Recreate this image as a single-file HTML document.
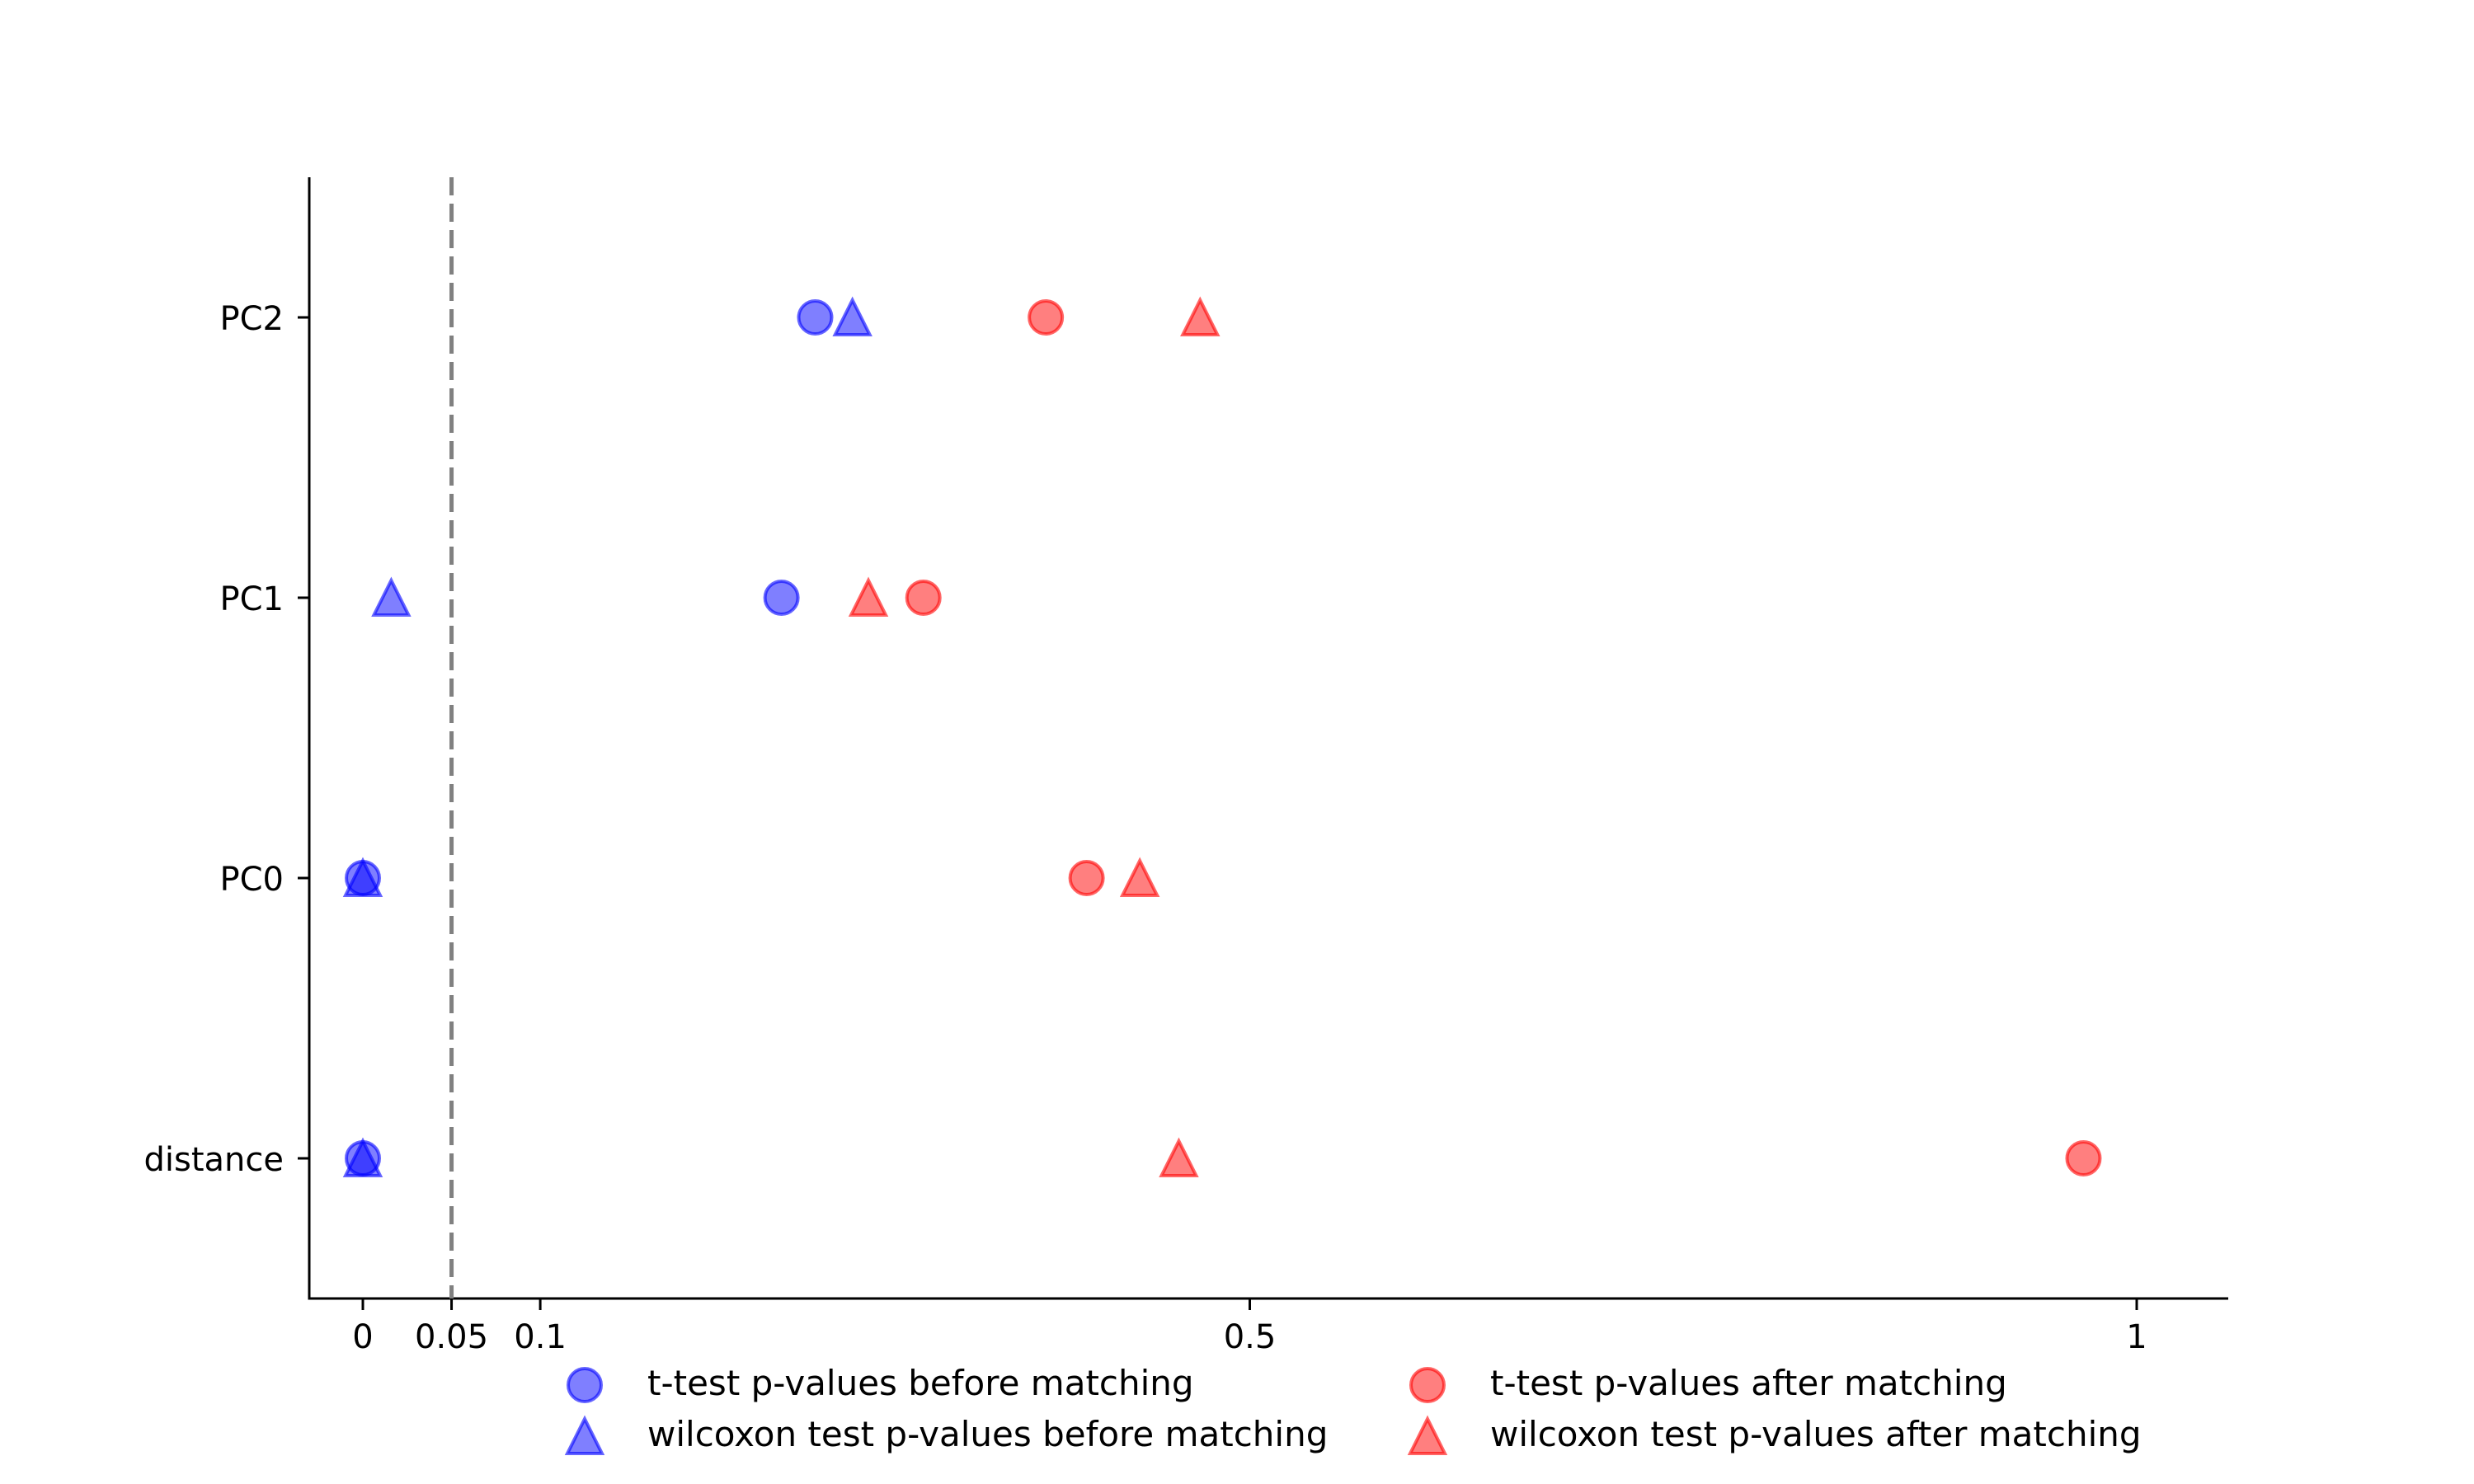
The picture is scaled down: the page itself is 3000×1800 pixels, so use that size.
<!DOCTYPE html>
<html><head><meta charset="utf-8"><style>
html,body{margin:0;padding:0;background:#fff;}
svg{display:block;font-family:"DejaVu Sans","Liberation Sans",sans-serif;}
</style></head><body>
<svg id="chart" width="3000" height="1800" viewBox="0 0 3000 1800">
<g id="plot"></g>
<g id="legend"></g>
</svg>
<script>
const categories = ["distance","PC0","PC1","PC2"];
const ttestBefore = [0.0, 0.0, 0.236, 0.255];
const wilcoxBefore = [0.0, 0.0, 0.016, 0.276];
const ttestAfter = [0.970, 0.408, 0.316, 0.385];
const wilcoxAfter = [0.460, 0.438, 0.285, 0.472];
const xTickValues = [0, 0.05, 0.1, 0.5, 1];
const xTickLabels = ["0","0.05","0.1","0.5","1"];
const threshold = 0.05;

const NS = "http://www.w3.org/2000/svg";
const X0 = 440, XS = 2151;
const xScale = v => X0 + v * XS;
const yScale = i => 1405 - i * 340;
const AX_L = 375, AX_R = 2702, AX_T = 215, AX_B = 1575;
const plot = document.getElementById('plot');
const legend = document.getElementById('legend');
function mk(tag, attrs, parent){
  const e = document.createElementNS(NS, tag);
  for (const k in attrs) e.setAttribute(k, attrs[k]);
  parent.appendChild(e); return e;
}
let ax = mk('line',{x1:AX_L,y1:AX_T,x2:AX_L,y2:AX_B+1.5,stroke:'#000','stroke-width':3},plot);


ax = mk('line',{x1:AX_L-1.5,y1:AX_B,x2:AX_R,y2:AX_B,stroke:'#000','stroke-width':3},plot);


const th = mk('line',{x1:xScale(threshold),y1:AX_T,x2:xScale(threshold),y2:AX_B,stroke:'#808080','stroke-width':5,'stroke-dasharray':'22,10'},plot);


xTickValues.forEach((v,i)=>{
  const x = xScale(v);
  const t = mk('line',{x1:x,y1:AX_B,x2:x,y2:AX_B+14,stroke:'#000','stroke-width':3},plot);
  
  
  const l = mk('text',{x:x,y:1635,'font-size':40,'text-anchor':'middle'},plot);
  l.textContent = xTickLabels[i];
  
  
});
categories.forEach((c,i)=>{
  const y = yScale(i);
  const t = mk('line',{x1:AX_L-14,y1:y,x2:AX_L,y2:y,stroke:'#000','stroke-width':3},plot);
  
  
  const l = mk('text',{x:344,y:y+15,'font-size':40,'text-anchor':'end'},plot);
  l.textContent = c;
  
  
});
function circle(x,y,color,parent){
  return mk('circle',{cx:x,cy:y,r:20,fill:color,'fill-opacity':0.5,stroke:color,'stroke-opacity':0.6,'stroke-width':4},parent);
}
function tri(x,y,color,parent){
  const s=21;
  return mk('polygon',{points:`${x},${y-s} ${x+s},${y+s} ${x-s},${y+s}`,fill:color,'fill-opacity':0.5,stroke:color,'stroke-opacity':0.6,'stroke-width':4,'stroke-linejoin':'miter'},parent);
}
const series = [
  {vals:ttestBefore, color:'#0000ff', shape:'c', name:'t-test-before', label:'t-test p-values before matching', lx:709, ly:1680},
  {vals:wilcoxBefore, color:'#0000ff', shape:'t', name:'wilcoxon-before', label:'wilcoxon test p-values before matching', lx:709, ly:1742},
  {vals:ttestAfter, color:'#ff0000', shape:'c', name:'t-test-after', label:'t-test p-values after matching', lx:1731, ly:1680},
  {vals:wilcoxAfter, color:'#ff0000', shape:'t', name:'wilcoxon-after', label:'wilcoxon test p-values after matching', lx:1731, ly:1742}
];
series.forEach(s=>{
  s.vals.forEach((v,i)=>{
    const e = s.shape==='c' ? circle(xScale(v),yScale(i),s.color,plot) : tri(xScale(v),yScale(i),s.color,plot);
    
    
  });
  const m = s.shape==='c' ? circle(s.lx,s.ly,s.color,legend) : tri(s.lx,s.ly,s.color,legend);
  
  
  const t = mk('text',{x:s.lx+76,y:s.ly+12,'font-size':42},legend);
  t.textContent = s.label;
  
  
});
</script>
</body></html>
